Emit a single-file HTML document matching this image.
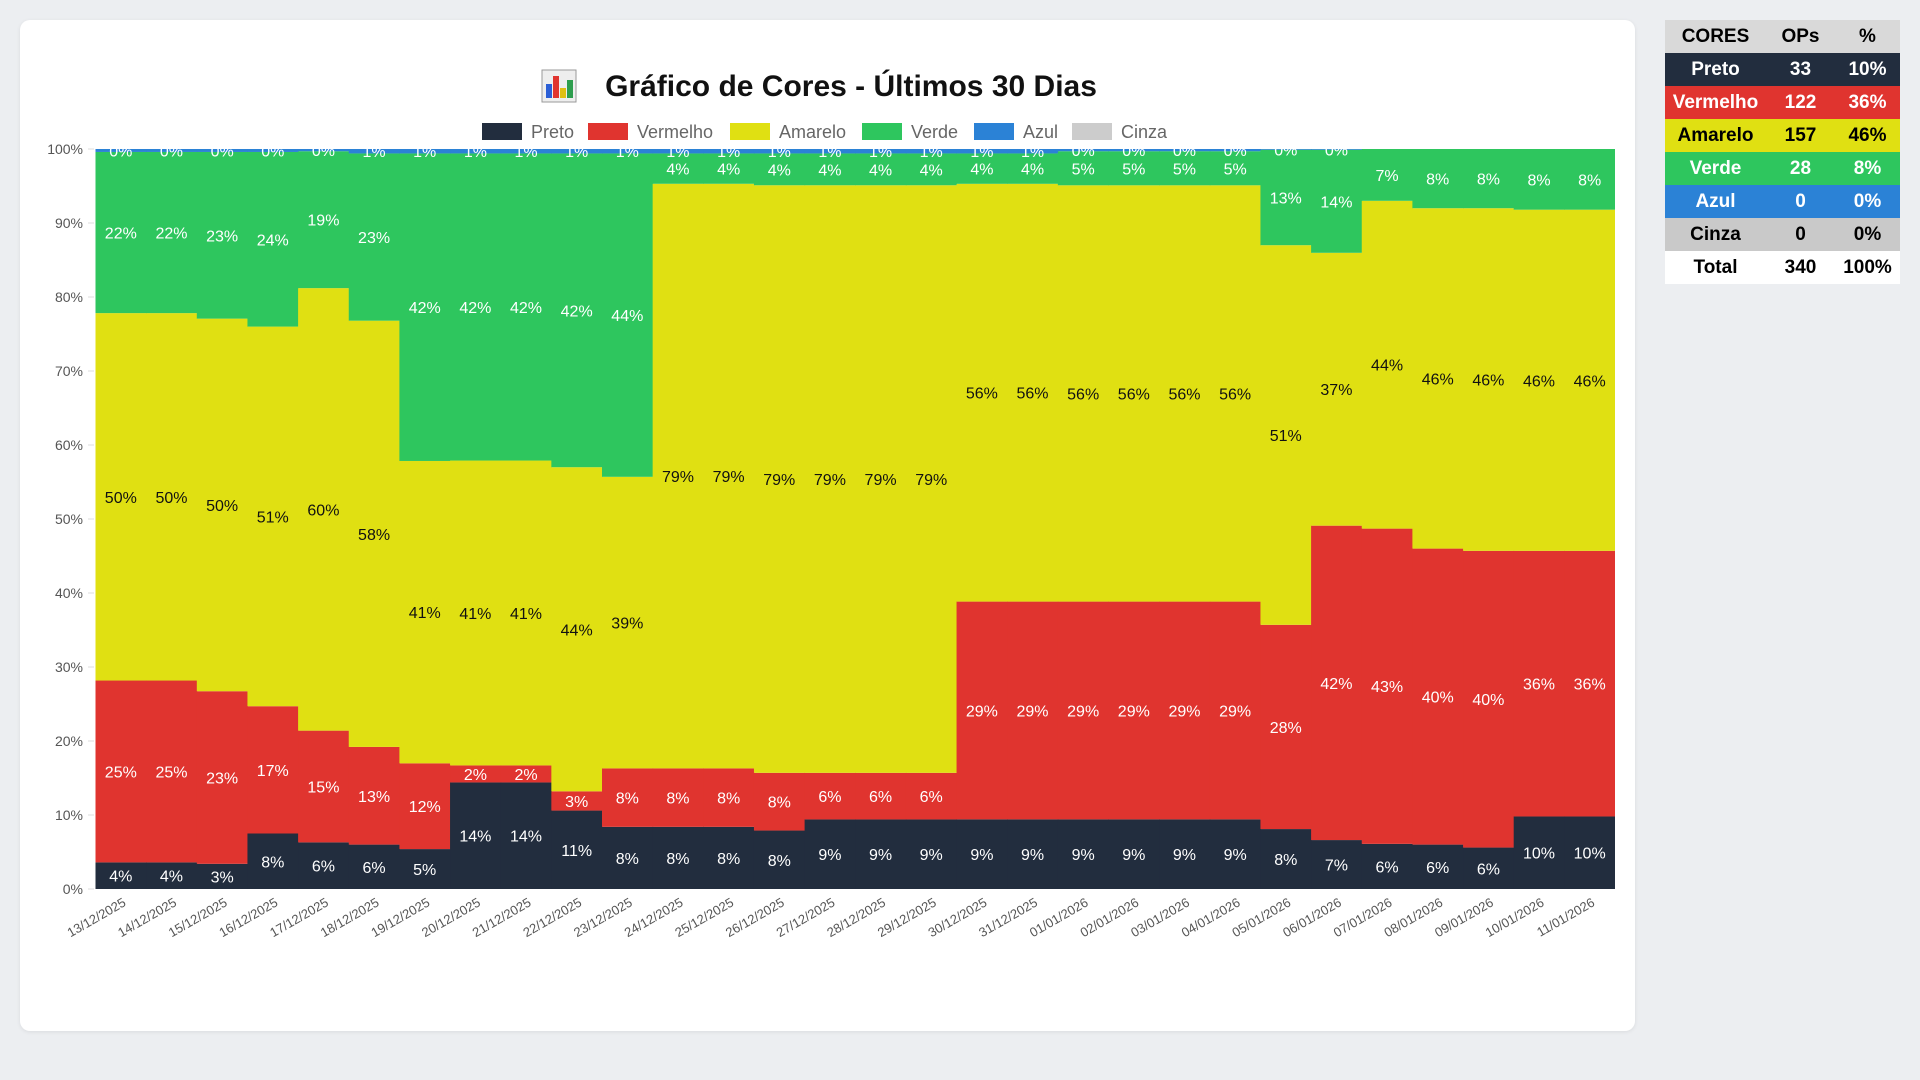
<!DOCTYPE html>
<html><head><meta charset="utf-8">
<style>
html,body{margin:0;padding:0;background:#eceef1;width:1920px;height:1080px;overflow:hidden;font-family:"Liberation Sans",sans-serif;}
#card{position:absolute;left:20px;top:20px;width:1615px;height:1011px;background:#fff;border-radius:10px;box-shadow:0 1px 4px rgba(0,0,0,0.08);}
#tbl{position:absolute;left:1665px;top:20px;width:235px;border-collapse:collapse;font-weight:bold;font-size:19px;}
#tbl td,#tbl th{height:33px;padding:0;text-align:center;}
</style></head><body>
<div id="card">
<svg id="chart" width="1615" height="1011"></svg>
</div>
<table id="tbl">
<tr style="background:#d9d9d9;color:#000"><th style="width:101px">CORES</th><th style="width:69px">OPs</th><th>%</th></tr>
<tr style="background:#222d3e;color:#fff"><td>Preto</td><td>33</td><td>10%</td></tr>
<tr style="background:#e0342f;color:#fff"><td>Vermelho</td><td>122</td><td>36%</td></tr>
<tr style="background:#e0e012;color:#000"><td>Amarelo</td><td>157</td><td>46%</td></tr>
<tr style="background:#2ec65e;color:#fff"><td>Verde</td><td>28</td><td>8%</td></tr>
<tr style="background:#2b82d6;color:#fff"><td>Azul</td><td>0</td><td>0%</td></tr>
<tr style="background:#c9c9c9;color:#000"><td>Cinza</td><td>0</td><td>0%</td></tr>
<tr style="background:#fff;color:#000"><td>Total</td><td>340</td><td>100%</td></tr>
</table>
<script>
const categories=["13/12/2025","14/12/2025","15/12/2025","16/12/2025","17/12/2025","18/12/2025","19/12/2025","20/12/2025","21/12/2025","22/12/2025","23/12/2025","24/12/2025","25/12/2025","26/12/2025","27/12/2025","28/12/2025","29/12/2025","30/12/2025","31/12/2025","01/01/2026","02/01/2026","03/01/2026","04/01/2026","05/01/2026","06/01/2026","07/01/2026","08/01/2026","09/01/2026","10/01/2026","11/01/2026"];
const preto=[3.6,3.6,3.4,7.5,6.3,6.0,5.4,14.4,14.4,10.6,8.4,8.4,8.4,7.9,9.4,9.4,9.4,9.4,9.4,9.4,9.4,9.4,9.4,8.1,6.6,6.1,6.0,5.6,9.8,9.8];
const vermelho=[24.6,24.6,23.3,17.2,15.1,13.2,11.6,2.3,2.3,2.6,7.9,7.9,7.9,7.8,6.3,6.3,6.3,29.4,29.4,29.4,29.4,29.4,29.4,27.6,42.4,42.6,40.0,40.1,35.9,35.9];
const amarelo=[49.7,49.7,50.3,51.3,59.8,57.6,40.9,41.2,41.2,43.8,39.4,79.0,79.0,79.4,79.4,79.4,79.4,56.4,56.4,56.2,56.2,56.2,56.2,51.3,36.8,44.3,46.0,46.3,46.1,46.1];
const verde=[21.8,21.8,22.5,23.6,18.5,22.6,41.6,41.5,41.5,42.4,43.7,4.1,4.1,4.3,4.3,4.3,4.3,4.1,4.1,4.6,4.6,4.6,4.6,12.9,13.9,7.0,8.0,8.0,8.2,8.2];
const azul=[0.4,0.4,0.4,0.4,0.3,0.6,0.6,0.6,0.6,0.6,0.6,0.6,0.6,0.6,0.6,0.6,0.6,0.6,0.6,0.3,0.3,0.3,0.3,0.1,0.1,0,0,0,0,0];
const cinza=[0,0,0,0,0,0,0,0,0,0,0,0,0,0,0,0,0,0,0,0,0,0,0,0,0,0,0,0,0,0];
const seriesNames=["Preto","Vermelho","Amarelo","Verde","Azul","Cinza"];
const yTicks=[0,10,20,30,40,50,60,70,80,90,100];

const NS="http://www.w3.org/2000/svg";
const svg=document.getElementById('chart');
const colors=["#222d3e","#e0342f","#e0e012","#2ec65e","#2b82d6","#cccccc"];
const txtCol=["#fff","#fff","#111","#fff","#fff","#111"];
const series=[preto,vermelho,amarelo,verde,azul,cinza];
const X0=75.5,X1=1595,Y0=869,Y1=129;
const bw=(X1-X0)/categories.length;
function xPos(i){return X0+i*bw;}
function yPos(v){return Y0-(v/100)*(Y0-Y1);}
function mk(tag,attrs,parent){const e=document.createElementNS(NS,tag);for(const k in attrs)e.setAttribute(k,attrs[k]);(parent||svg).appendChild(e);return e;}

// title
const title=mk('text',{x:831,y:76,'text-anchor':'middle','font-size':30,'font-weight':'bold',fill:'#111','font-family':'Liberation Sans, sans-serif'});


title.textContent="Gráfico de Cores - Últimos 30 Dias";
const ic=mk('g',{});


mk('rect',{x:522,y:50,width:34,height:32,fill:'#eee',stroke:'#999'},ic);
[['#2b5fd6',526,64,14],['#e0342f',533,56,22],['#e0c012',540,68,10],['#2e9e4e',547,60,18]].forEach(b=>mk('rect',{x:b[1],y:b[2],width:6,height:b[3],fill:b[0]},ic));

// legend
const legX=[462,568,710,842,954,1052];
seriesNames.forEach((n,s)=>{
  const g=mk('g',{});
  
  
  mk('rect',{x:legX[s],y:103,width:40,height:17,fill:colors[s]},g);
  const t=mk('text',{x:legX[s]+49,y:118,'font-size':18,fill:'#666'},g);
  t.textContent=n;
});

// y axis
yTicks.forEach(v=>{
  const t=mk('text',{x:63,y:yPos(v)+5,'text-anchor':'end','font-size':14,fill:'#555'});
  
  
  t.textContent=v+'%';
  mk('line',{x1:68,x2:74,y1:yPos(v),y2:yPos(v),stroke:'#ddd'});
});

// bars
const defs=mk('defs',{});
const cp=mk('clipPath',{id:'pc'},defs);
mk('rect',{x:X0,y:Y1,width:X1-X0,height:Y0-Y1},cp);
const bars=mk('g',{'clip-path':'url(#pc)'});
const labels=mk('g',{'clip-path':'url(#pc)'});
categories.forEach((c,i)=>{
  let cum=0;
  const tot=series.reduce((a,s)=>a+s[i],0);
  series.forEach((s,k)=>{
    const v=s[i]/tot*100;
    if(v<=0)return;
    const yt=yPos(cum+v),yb=yPos(cum);
    const r=mk('rect',{x:xPos(i),y:yt,width:bw+0.5,height:yb-yt,fill:colors[k]},bars);
    
    
    const t=mk('text',{x:xPos(i)+bw/2,y:(yt+yb)/2+6,'text-anchor':'middle','font-size':16,fill:txtCol[k]},labels);
    
    
    t.textContent=Math.round(v)+'%';
    cum+=v;
  });
  const xl=mk('text',{x:0,y:0,'text-anchor':'end','font-size':13,fill:'#555',transform:`translate(${xPos(i)+bw/2+6},${885}) rotate(-30)`});
  
  
  xl.textContent=c;
});
</script>
</body></html>
